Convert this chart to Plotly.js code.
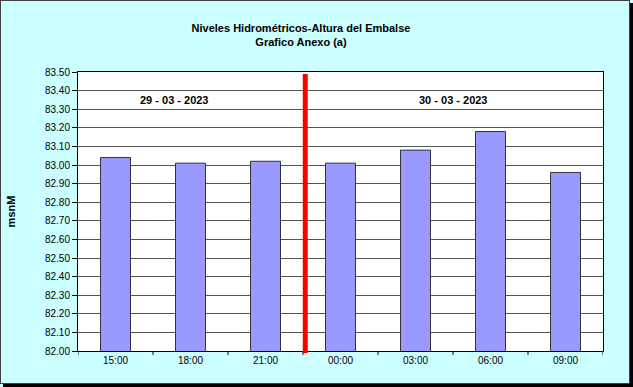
<!DOCTYPE html>
<html>
<head>
<meta charset="utf-8">
<script src="https://cdn.plot.ly/plotly-3.0.1.min.js"></script>
<style>
  html, body { margin: 0; padding: 0; background: #ffffff; }
  #wrap { position: relative; width: 633px; height: 387px; overflow: hidden; }
  #chart { position: absolute; left: 0; top: 0; width: 633px; height: 387px; }
  #frame { position: absolute; left: 0; top: 0; width: 628px; height: 382px;
           border: 1px solid #404040; box-shadow: 3px 3px 0 #000; pointer-events: none; }
</style>
</head>
<body>
<div id="wrap">
  <div id="chart"></div>
  <div id="frame"></div>
</div>
<script>
const categories = ["15:00", "18:00", "21:00", "00:00", "03:00", "06:00", "09:00"];
const levels = [83.04, 83.01, 83.02, 83.01, 83.08, 83.18, 82.96];
const dayLabels = ["29 - 03 - 2023", "30 - 03 - 2023"];
const dayLabelPos = [0.79, 4.5];
const dayChangePos = 2.53;

const trace = {
  type: "bar",
  x: categories.map((c, i) => i),
  y: levels,
  width: 0.4,
  marker: { color: "#9999FF", line: { color: "#333333", width: 1 } },
  hoverinfo: "skip"
};

const layout = {
  width: 633, height: 387,
  paper_bgcolor: "#CCFFFF",
  plot_bgcolor: "#FFFFFF",
  margin: { l: 78, r: 30, t: 72, b: 36 },
  showlegend: false,
  font: { family: "Liberation Sans, Arial, sans-serif", size: 10, color: "#000" },
  title: {
    text: "<b>Niveles Hidrométricos-Altura del Embalse<br>Grafico Anexo (a)</b>",
    font: { family: "Liberation Sans, Arial, sans-serif", size: 11, color: "#000" },
    x: 301 / 633, xref: "container", xanchor: "center",
    y: 1 - 32 / 387, yref: "container", yanchor: "middle"
  },
  xaxis: {
    type: "linear",
    range: [-0.5, 6.5],
    tickvals: categories.map((c, i) => i),
    ticktext: categories,
    showgrid: false,
    zeroline: false,
    showline: true, linecolor: "#000", linewidth: 1, mirror: true,
    ticks: "",
    tickfont: { size: 10 },
    fixedrange: true
  },
  yaxis: {
    range: [82.0, 83.5],
    dtick: 0.1,
    tick0: 82.0,
    tickformat: ".2f",
    showgrid: true, gridcolor: "#555555", gridwidth: 1,
    zeroline: false,
    showline: true, linecolor: "#000", linewidth: 1, mirror: true,
    ticks: "outside", ticklen: 5, tickcolor: "#000",
    tickfont: { size: 10 },
    title: { text: "<b>msnM</b>", font: { size: 11 }, standoff: 27 },
    fixedrange: true
  },
  shapes: [],
  annotations: dayLabels.map((t, i) => ({
    x: dayLabelPos[i], y: 83.35, xref: "x", yref: "y",
    text: "<b>" + t + "</b>", showarrow: false,
    font: { size: 11, color: "#000" }, xanchor: "center", yanchor: "middle"
  }))
};

// x ticks at category boundaries (outside)
for (let i = 0; i <= categories.length; i++) {
  layout.shapes.push({
    type: "line", xref: "x", yref: "paper",
    x0: i - 0.5, x1: i - 0.5, y0: 0, y1: -0.014,
    line: { color: "#000", width: 1 }
  });
}
// red day-change line
layout.shapes.push({
  type: "line", xref: "x", yref: "paper",
  x0: dayChangePos, x1: dayChangePos, y0: -0.007, y1: 0.993,
  line: { color: "#FF0000", width: 5 }
});

Plotly.newPlot("chart", [trace], layout, { staticPlot: true, displayModeBar: false });
</script>
</body>
</html>
